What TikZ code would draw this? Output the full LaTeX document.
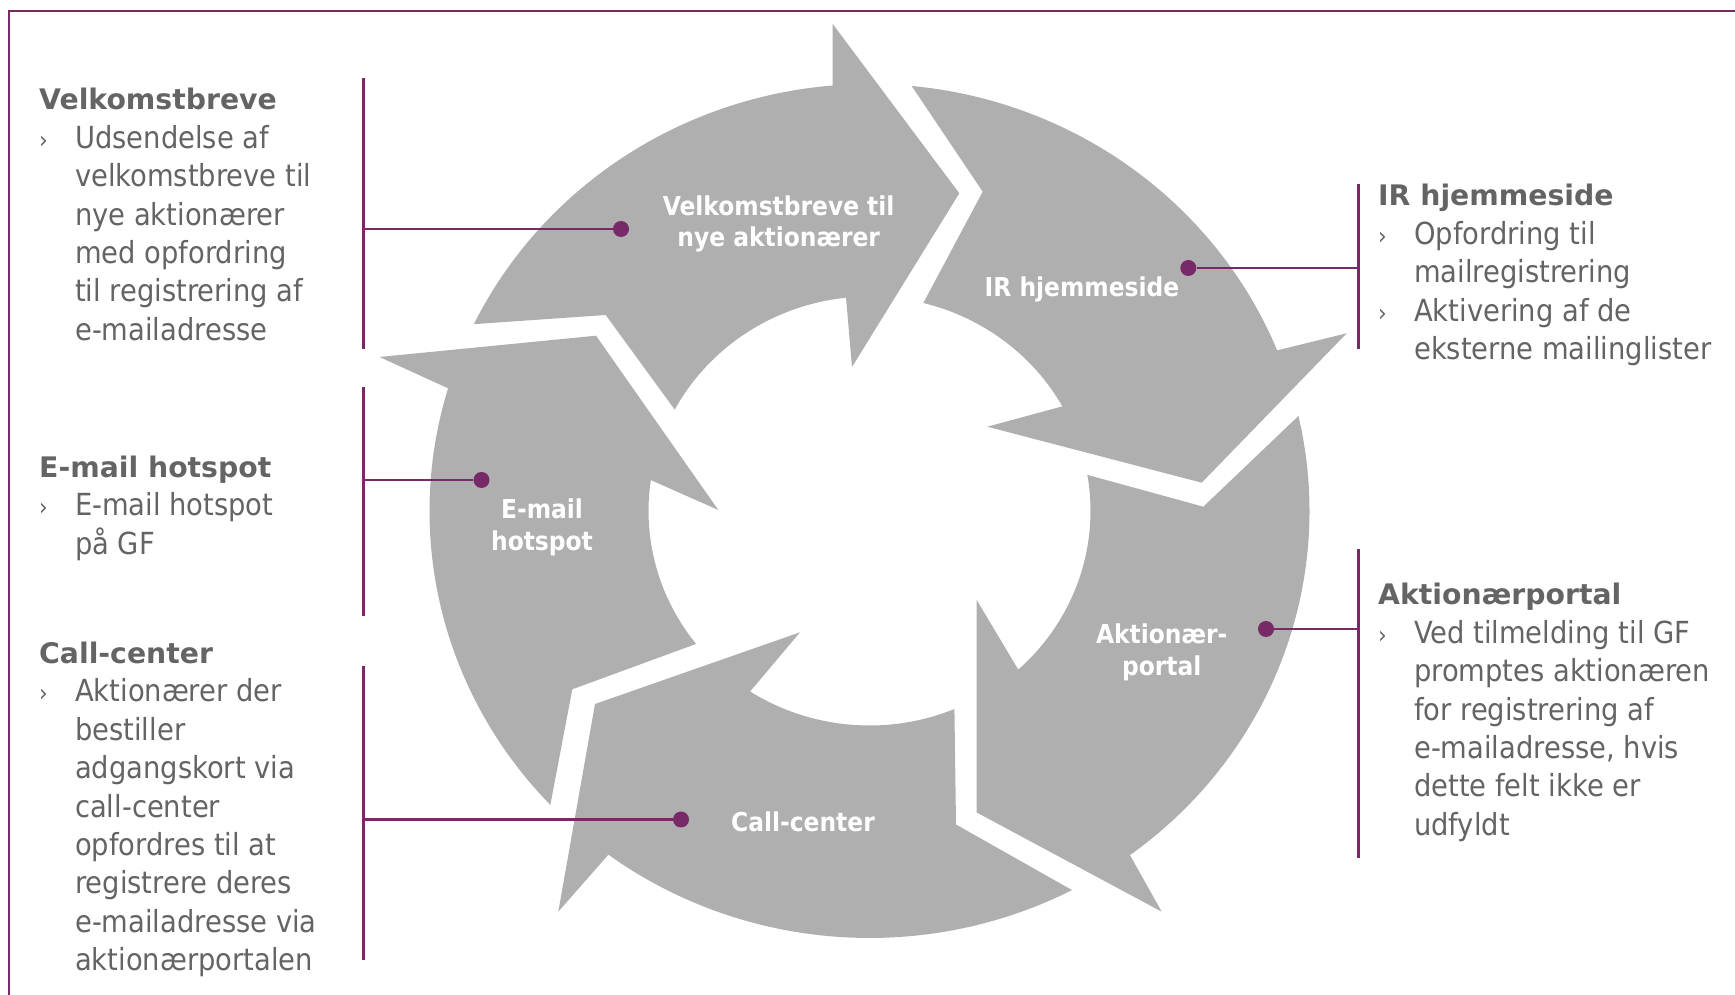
\documentclass[tikz,border=0pt]{standalone}
\usepackage{fontspec}
\setmainfont{DejaVu Sans Condensed}
\newfontfamily\headfont{DejaVu Sans}
\usetikzlibrary{calc}

\definecolor{cyclegray}{RGB}{175,175,175}
\definecolor{cyclepurple}{RGB}{119,41,104}
\definecolor{cycletext}{RGB}{100,100,100}

\newcommand\cycleboxfont{\fontsize{30.4}{38.4}\selectfont}
\newcommand\cyclelabelfont{\fontsize{26}{31.7}\selectfont\bfseries}
\newcommand\hd[1]{{\headfont\bfseries\fontsize{28.3}{38.4}\selectfont #1}}
\newcommand\bul{\makebox[36pt][l]{\fontsize{24}{24}\selectfont ›}}
\newcommand\ind{\hspace*{36pt}}
% one arrow of the ring: outer arc, head (barb, tip, barb), inner arc, notch
\newcommand\cyclearrow[8]{
  \fill[cyclegray] ($(ring)+(#1:440 and 427)$)
    arc[start angle=#1, end angle=#2, x radius=440, y radius=427]
    -- #3 -- #4 -- #5 -- ($(ring)+(#6:221 and 214.5)$)
    arc[start angle=#6, end angle=#7, x radius=221, y radius=214.5]
    -- #8 -- cycle ;
}

\begin{document}
\begin{tikzpicture}[x=1pt, y=1pt,
  linkdot/.style={circle, fill=cyclepurple, inner sep=0pt, minimum size=16pt},
  link/.style={cyclepurple, line width=2.2pt},
  arrowtext/.style={text=white, font=\cyclelabelfont, align=center, inner sep=0pt},
  notebox/.style={anchor=base west, inner sep=0pt, text=cycletext, font=\cycleboxfont, align=left}]
  \useasboundingbox (0,0) rectangle (1735,995);
  \coordinate (ring) at (869.5,484);

  % frame
  \draw[cyclepurple, line width=2pt] (8.5,-5) |- (1740,984);

  % the five arrows
  \cyclearrow{154.05}{94.8}{(832.7,971)}{(959.3,801.7)}{(852,628)}{96.1}{151.8}{(605.7,680)}
  \cyclearrow{84.5}{22.1}{(1346.7,661.7)}{(1201.7,512.3)}{(987.3,568.3)}{29.2}{75.9}{(982.7,803.3)}
  \cyclearrow{12.86}{-53.7}{(1161.7,83.3)}{(976.7,182.5)}{(976.7,395)}{-47.7}{9.7}{(1203.3,488.3)}
  \cyclearrow{-62.6}{-126.4}{(558.3,83.3)}{(595,291)}{(800,362.7)}{-122.7}{-67.4}{(956,170.5)}
  \cyclearrow{223.5}{163.3}{(379.5,638)}{(596,659.3)}{(718.3,485)}{171.7}{218.3}{(572.3,305.7)}

  \node[arrowtext] (tVel) at (778.7,771) {Velkomstbreve til\\nye aktionærer};
  \node[arrowtext] (tIR) at (1082,706) {IR hjemmeside};
  \node[arrowtext] (tMail) at (542,468) {E-mail\\hotspot};
  \node[arrowtext] (tCall) at (803,173) {Call-center};
  \node[arrowtext] (tPort) at (1161.7,343) {Aktionær-\\portal};

  % notes left (placed at the baseline of their last line)
  \node[notebox] (nVel) at (39,654.6) {\hd{Velkomstbreve}\\
    \bul Udsendelse af\\ \ind velkomstbreve til\\ \ind nye aktionærer\\
    \ind med opfordring\\ \ind til registrering af\\ \ind e-mailadresse};
  \node[notebox] (nMail) at (39,440.7) {\hd{E-mail hotspot}\\
    \bul E-mail hotspot\\ \ind på GF};
  \node[notebox] (nCall) at (39,24.3) {\hd{Call-center}\\
    \bul Aktionærer der\\ \ind bestiller\\ \ind adgangskort via\\ \ind call-center\\
    \ind opfordres til at\\ \ind registrere deres\\ \ind e-mailadresse via\\ \ind aktionærportalen};
  % notes right
  \node[notebox] (nIR) at (1378,635.4) {\hd{IR hjemmeside}\\
    \bul Opfordring til\\ \ind mailregistrering\\
    \bul Aktivering af de\\ \ind eksterne mailinglister};
  \node[notebox] (nPort) at (1378,159.6) {\hd{Aktionærportal}\\
    \bul Ved tilmelding til GF\\ \ind promptes aktionæren\\ \ind for registrering af\\
    \ind e-mailadresse, hvis\\ \ind dette felt ikke er\\ \ind udfyldt};

  % brackets and links
  \coordinate (bVelTop) at (363.5,917);
  \coordinate (bVelBot) at (363.5,645.5);
  \coordinate (bMailTop) at (363.5,607.5);
  \coordinate (bMailBot) at (363.5,379.2);
  \coordinate (bCallTop) at (363.5,329);
  \coordinate (bCallBot) at (363.5,35);
  \coordinate (bIRTop) at (1358.5,810.7);
  \coordinate (bIRBot) at (1358.5,645.7);
  \coordinate (bPortTop) at (1358.5,445.7);
  \coordinate (bPortBot) at (1358.5,136.7);
  \draw[link] (bVelTop) -- (bVelBot);
  \draw[link] (bMailTop) -- (bMailBot);
  \draw[link] (bCallTop) -- (bCallBot);
  \draw[link] (bIRTop) -- (bIRBot);
  \draw[link] (bPortTop) -- (bPortBot);

  \node[linkdot] (dVel) at (621,766) {};
  \node[linkdot] (dMail) at (481.5,515) {};
  \node[linkdot] (dCall) at (681,175.5) {};
  \node[linkdot] (dIR) at (1188.3,727) {};
  \node[linkdot] (dPort) at (1266,366) {};
  \draw[link] (dVel) -- (dVel -| bVelTop);
  \draw[link] (dMail) -- (dMail -| bMailTop);
  \draw[link] (dCall) -- (dCall -| bCallTop);
  \draw[link] (dIR) -- (dIR -| bIRTop);
  \draw[link] (dPort) -- (dPort -| bPortTop);
\end{tikzpicture}
\end{document}
